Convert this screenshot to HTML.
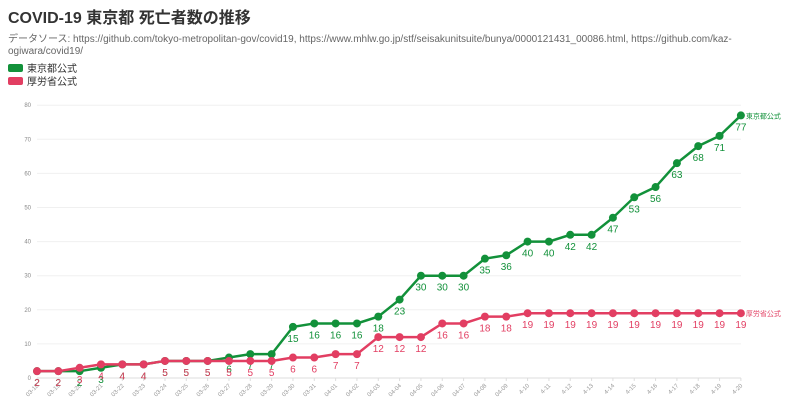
<!DOCTYPE html>
<html><head><meta charset="utf-8"><style>
body{margin:0;width:800px;height:415px;background:#fff;font-family:"Liberation Sans","Noto Sans CJK JP",sans-serif;overflow:hidden}
</style></head><body>
<svg id="s" width="800" height="415" xmlns="http://www.w3.org/2000/svg" font-family="Liberation Sans, Noto Sans CJK JP, sans-serif">
<text x="8" y="23" font-size="16" font-weight="bold" fill="#333">COVID-19 東京都 死亡者数の推移</text>
<text x="8" y="42" font-size="10" fill="#666">データソース: https://github.com/tokyo-metropolitan-gov/covid19, https://www.mhlw.go.jp/stf/seisakunitsuite/bunya/0000121431_00086.html, https://github.com/kaz-</text>
<text x="8" y="54" font-size="10" fill="#666">ogiwara/covid19/</text>
<rect x="8" y="64" width="15" height="8" rx="2" fill="#12913a"/>
<text x="27" y="72" font-size="10" fill="#333">東京都公式</text>
<rect x="8" y="77" width="15" height="8" rx="2" fill="#e23e62"/>
<text x="27" y="85" font-size="10" fill="#333">厚労省公式</text>
<g id="g"></g>
</svg>
<script>
var g=document.getElementById('g'),h='';
var y0=378,sc=3.41,x0=37,dx=21.33;
for(var v=0;v<=80;v+=10){var y=y0-v*sc;h+='<line x1="37" x2="741" y1="'+y+'" y2="'+y+'" stroke="'+(v?'#f0f0f0':'#ddd')+'"/><text x="31" y="'+(y+2)+'" font-size="6" fill="#888" text-anchor="end">'+v+'</text>';}
var d=[];for(var i=18;i<=31;i++)d.push('03-'+i);for(i=1;i<=9;i++)d.push('04-0'+i);for(i=10;i<=20;i++)d.push('4-'+i);
var t=[2,2,2,3,4,4,5,5,5,6,7,7,15,16,16,16,18,23,30,30,30,35,36,40,40,42,42,47,53,56,63,68,71,77];
var m=[2,2,3,4,4,4,5,5,5,5,5,5,6,6,7,7,12,12,12,16,16,18,18,19,19,19,19,19,19,19,19,19,19,19];
d.forEach(function(s,i){var x=x0+i*dx;h+='<line x1="'+x+'" x2="'+x+'" y1="378" y2="381" stroke="#ddd"/><text transform="translate('+(x+2)+',386) rotate(-45)" font-size="6" fill="#999" text-anchor="end">'+s+'</text>';});
function ser(a,c,n){var p=a.map(function(v,i){return (x0+i*dx)+','+(y0-v*sc)}).join(' ');
h+='<polyline points="'+p+'" fill="none" stroke="'+c+'" stroke-width="2.5"/>';
a.forEach(function(v,i){var x=x0+i*dx,y=y0-v*sc;h+='<circle cx="'+x+'" cy="'+y+'" r="4" fill="'+c+'"/><text x="'+x+'" y="'+(y+15)+'" font-size="10" fill="'+c+'" text-anchor="middle">'+v+'</text>';});
var l=a.length-1;h+='<text x="'+(x0+l*dx+5)+'" y="'+(y0-a[l]*sc+3)+'" font-size="7" fill="'+c+'">'+n+'</text>';}
ser(t,'#12913a','東京都公式');ser(m,'#e23e62','厚労省公式');
g.innerHTML=h;
</script>
</body></html>
